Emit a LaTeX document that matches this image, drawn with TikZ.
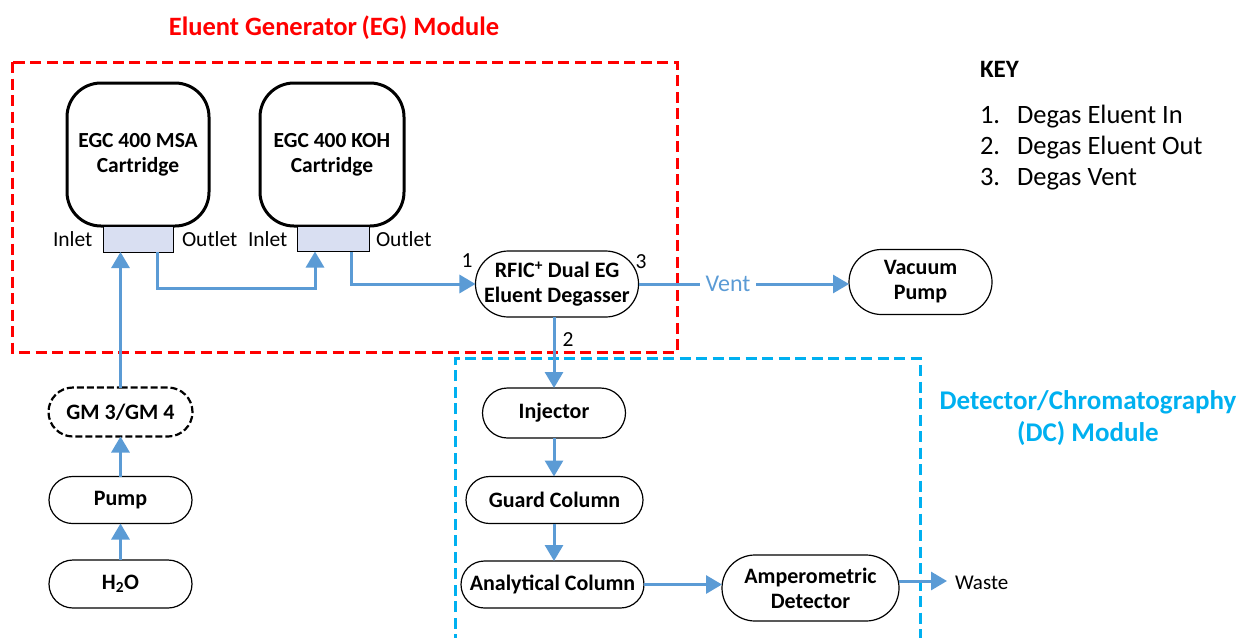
\documentclass[tikz,border=0pt]{standalone}
\usepackage{fontspec}
\setmainfont{Carlito}
\usetikzlibrary{arrows.meta,shapes.misc}
\definecolor{flow}{HTML}{5B9BD5}
\definecolor{egred}{HTML}{FF0000}
\definecolor{dcblue}{HTML}{00B0F0}
\definecolor{portfill}{HTML}{D9DFF2}
\begin{document}
\begin{tikzpicture}[x=1pt,y=-1pt,
  every node/.style={inner sep=0pt, outer sep=0pt},
  boldtxt/.style={font=\fontsize{21.5}{25}\selectfont\bfseries},
  stadium/.style={rounded rectangle, draw=black, line width=1.2pt, font=\fontsize{22}{25}\selectfont\bfseries, align=center},
  gmstadium/.style={stadium, line width=2.2pt, dash pattern=on 7pt off 3pt},
  cart/.style={rectangle, draw=black, line width=3pt, rounded corners=34pt, boldtxt, align=center},
  port/.style={rectangle, draw=black, fill=portfill, line width=1pt},
  lbl/.style={font=\fontsize{21.5}{24}\selectfont},
  keytxt/.style={font=\fontsize{26.5}{30}\selectfont},
  flowline/.style={draw=flow, line width=3pt},
  flowarrow/.style={flowline, -{Triangle[width=18pt,length=16pt]}},
  modframe/.style={line width=3pt, dash pattern=on 11pt off 5.5pt},
]
\useasboundingbox (0,0) rectangle (1238,637);

% module frames
\draw[modframe, egred] (12,62) rectangle (677,352);
\draw[modframe, dcblue] (455,645) -- (455,358) -- (920,358) -- (920,645);

% titles
\node[anchor=base, text=egred, font=\fontsize{26.5}{30}\selectfont\bfseries] (egtitle) at (334,35) {Eluent Generator\,(EG) Module};
\node[anchor=base, text=dcblue, font=\fontsize{27}{32}\selectfont\bfseries, align=center] (dctitle) at (1088,441) {Detector/Chromatography\\(DC) Module};

% key
\node[anchor=base west, font=\fontsize{25}{30}\selectfont\bfseries] (key) at (980,77) {KEY};
\node[anchor=base west, keytxt] (k1n) at (980,123) {1.};
\node[anchor=base west, keytxt] (k1) at (1017,123) {Degas Eluent In};
\node[anchor=base west, keytxt] (k2n) at (980,154) {2.};
\node[anchor=base west, keytxt] (k2) at (1017,154) {Degas Eluent Out};
\node[anchor=base west, keytxt] (k3n) at (980,185) {3.};
\node[anchor=base west, keytxt] (k3) at (1017,185) {Degas Vent};

% cartridges
\node[cart, minimum width=142pt, minimum height=143pt] (msa) at (138,154.5) {EGC 400 MSA\\Cartridge};
\node[cart, minimum width=144pt, minimum height=143pt] (koh) at (332,154.5) {EGC 400 KOH\\Cartridge};
\node[port, minimum width=70pt, minimum height=26pt] (msaport) at (138,239) {};
\node[port, minimum width=72pt, minimum height=25pt] (kohport) at (333,239) {};
\node[lbl, anchor=base west] (msain) at (53,246) {Inlet};
\node[lbl, anchor=base west] (msaout) at (182,246) {Outlet};
\node[lbl, anchor=base west] (kohin) at (248,246) {Inlet};
\node[lbl, anchor=base west] (kohout) at (376,246) {Outlet};

% left column
\node[gmstadium, minimum width=144pt, minimum height=49pt] (gm) at (120.5,412) {GM 3/GM 4};
\node[stadium, minimum width=143pt, minimum height=47pt] (pump) at (120.5,500) {Pump};
\node[stadium, minimum width=143pt, minimum height=48pt] (water) at (120.5,584) {H\textsubscript{2}O};

% degasser and vacuum pump
\node[stadium, minimum width=158pt, minimum height=66pt] (deg) at (557,284) {RFIC\textsuperscript{+} Dual EG\\Eluent Degasser};
\node[stadium, minimum width=143pt, minimum height=65pt] (vac) at (920.5,282) {Vacuum\\Pump};
\node[lbl, anchor=base] (p1) at (467,267) {1};
\node[lbl, anchor=base] (p3) at (641,268) {3};
\node[lbl, anchor=base] (p2) at (568,346) {2};
\node[anchor=center, text=flow, font=\fontsize{24}{28}\selectfont, inner xsep=6pt, minimum height=20pt] (vent) at (728,284) {Vent};

% DC module chain
\node[stadium, minimum width=143pt, minimum height=50pt] (inj) at (554,413) {Injector};
\node[stadium, minimum width=177pt, minimum height=47pt] (guard) at (554.5,500) {Guard Column};
\node[stadium, minimum width=183pt, minimum height=47pt] (ana) at (552.5,584.5) {Analytical Column};
\node[stadium, minimum width=177pt, minimum height=66pt] (amp) at (810.5,588) {Amperometric\\Detector};
\node[anchor=base west, font=\fontsize{21}{24}\selectfont] (waste) at (955,589) {Waste};
\coordinate (wasteend) at (947,581);

% connectors
\draw[flowarrow] (water.north) -- (pump.south);
\draw[flowarrow] (pump.north) -- (gm.south);
\draw[flowarrow] (gm.north) -- (gm.north |- msaport.south);
\draw[flowarrow] ([xshift=19pt]msaport.south) -- ++(0,36) -| ([xshift=-18pt]kohport.south);
\draw[flowarrow] ([xshift=18pt]kohport.south) |- (deg.west);
\draw[flowline] (deg.east) -- (vent.west);
\draw[flowarrow] (vent.east) -- (vent.east -| vac.west);
\draw[flowarrow] (inj.north |- deg.south) -- (inj.north);
\draw[flowarrow] (inj.south) -- (inj.south |- guard.north);
\draw[flowarrow] (inj.south |- guard.south) -- (inj.south |- ana.north);
\draw[flowarrow] (ana.east) -- (ana.east -| amp.west);
\draw[flowarrow] (amp.east |- wasteend) -- (wasteend);
\end{tikzpicture}
\end{document}
